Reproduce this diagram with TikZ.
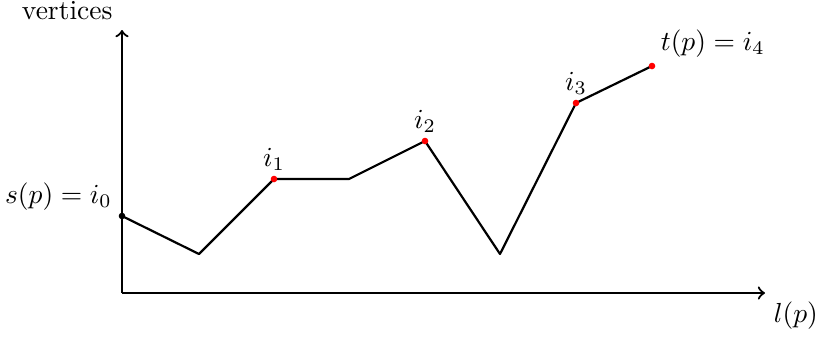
\documentclass[tikz,border=0pt]{standalone}
\begin{document}
\begin{tikzpicture}[x=0.363pt,y=-0.363pt,
  axis/.style={thick,->},
  pathline/.style={thick,line join=round},
  reddot/.style={circle,fill=red,inner sep=0pt,minimum size=2.4pt},
  blackdot/.style={circle,fill=black,inner sep=0pt,minimum size=2.4pt}]
\useasboundingbox (0,0) rectangle (817,337);
\coordinate (o) at (122,293);
\coordinate (ytop) at (122,30);
\coordinate (xend) at (765,293);
\coordinate (vpos) at (113,19);
\draw[axis] (o) -- (ytop);
\draw[axis] (o) -- (xend);
\node[anchor=base east,inner sep=0pt] (vlab) at (vpos) {vertices};
\node[anchor=north west,inner sep=3pt] (llab) at (xend) {$l(p)$};
\coordinate (p0) at (122,216);
\coordinate (p1) at (199,254);
\coordinate (p2) at (274,179);
\coordinate (p3) at (349,179);
\coordinate (p4) at (425,141);
\coordinate (p5) at (500,254);
\coordinate (p6) at (576,103);
\coordinate (p7) at (652,66);
\draw[pathline] (p0) -- (p1) -- (p2) -- (p3) -- (p4) -- (p5) -- (p6) -- (p7);
\node[blackdot] (d0) at (p0) {};
\node[reddot] (d1) at (p2) {};
\node[reddot] (d2) at (p4) {};
\node[reddot] (d3) at (p6) {};
\node[reddot] (d4) at (p7) {};
\node[anchor=south east,inner xsep=3.5pt,inner ysep=2pt] (l0) at (p0) {$s(p)=i_0$};
\node[anchor=south,inner sep=3pt] (l1) at (p2) {$i_1$};
\node[anchor=south,inner sep=3pt] (l2) at (p4) {$i_2$};
\node[anchor=south,inner sep=3pt] (l3) at (p6) {$i_3$};
\node[anchor=south west,inner sep=3pt] (l4) at (p7) {$t(p)=i_4$};
\end{tikzpicture}
\end{document}
